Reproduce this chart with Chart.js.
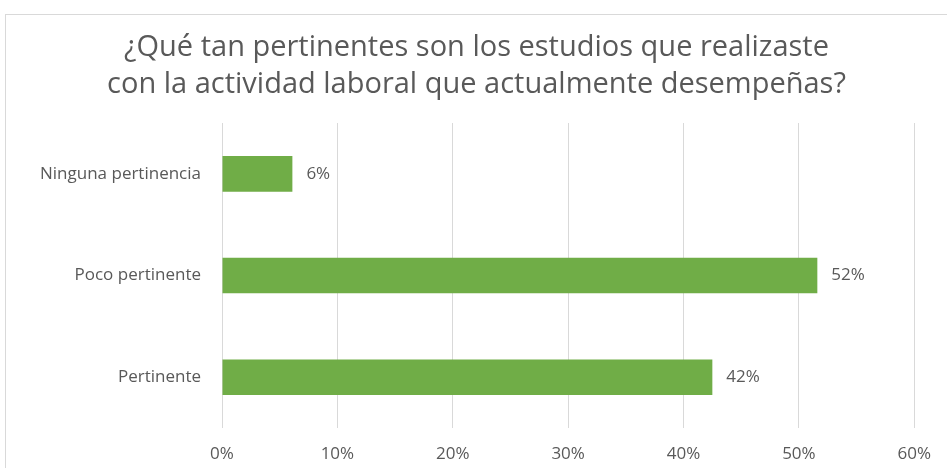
<!DOCTYPE html>
<html>
<head>
<meta charset="utf-8">
<script src="https://cdn.jsdelivr.net/npm/chart.js@4"></script>
<style>
  html, body { margin: 0; padding: 0; background: #fff; overflow: hidden; }
  .frame {
    position: absolute; left: 5px; top: 14px;
    width: 941px; height: 453px;
    border-left: 1px solid #d9d9d9; border-top: 1px solid #d9d9d9;
  }
</style>
</head>
<body>
<div class="frame"><canvas id="chart" width="941" height="453"></canvas></div>
<script>
const categories = ['Ninguna pertinencia', 'Poco pertinente', 'Pertinente'];
const values = [6.1, 51.6, 42.5];
const valueLabels = ['6%', '52%', '42%'];
const ticksPct = [0, 10, 20, 30, 40, 50, 60];

const textGray = '#595959';
const font = 'Open Sans';

// draws the value labels just right of each bar
const barValues = {
  id: 'barValues',
  afterDatasetsDraw(chart) {
    const ctx = chart.ctx;
    const meta = chart.getDatasetMeta(0);
    ctx.save();
    ctx.font = '17px "' + font + '"';
    ctx.fillStyle = textGray;
    ctx.textBaseline = 'middle';
    meta.data.forEach((bar, i) => {
      ctx.fillText(valueLabels[i], bar.x + 14, bar.y);
    });
    ctx.restore();
  }
};

new Chart(document.getElementById('chart'), {
  type: 'bar',
  data: {
    labels: categories,
    datasets: [{
      data: values,
      backgroundColor: '#70ad47',
      borderWidth: 0,
      categoryPercentage: 1,
      barPercentage: 0.35
    }]
  },
  options: {
    indexAxis: 'y',
    responsive: false,
    animation: false,
    layout: { padding: 0 },
    plugins: {
      legend: { display: false },
      tooltip: { enabled: false },
      title: {
        display: true,
        text: ['¿Qué tan pertinentes son los estudios que realizaste',
               'con la actividad laboral que actualmente desempeñas?'],
        color: textGray,
        font: { family: font, size: 29, weight: 'normal', lineHeight: 1.276 },
        padding: { top: 14, bottom: 20 }
      }
    },
    scales: {
      x: {
        min: 0,
        max: 60,
        afterBuildTicks(axis) { axis.ticks = ticksPct.map(v => ({ value: v })); },
        afterFit(axis) { axis.height = 40; },
        grid: { color: '#d9d9d9', drawTicks: false },
        border: { display: false },
        ticks: {
          color: textGray,
          padding: 16,
          font: { family: font, size: 17 },
          callback: v => v + '%'
        }
      },
      y: {
        afterFit(axis) { axis.width = 216; },
        grid: { display: false },
        border: { display: false },
        ticks: {
          color: textGray,
          padding: 13,
          font: { family: font, size: 17 }
        }
      }
    }
  },
  plugins: [barValues]
});
</script>
</body>
</html>
